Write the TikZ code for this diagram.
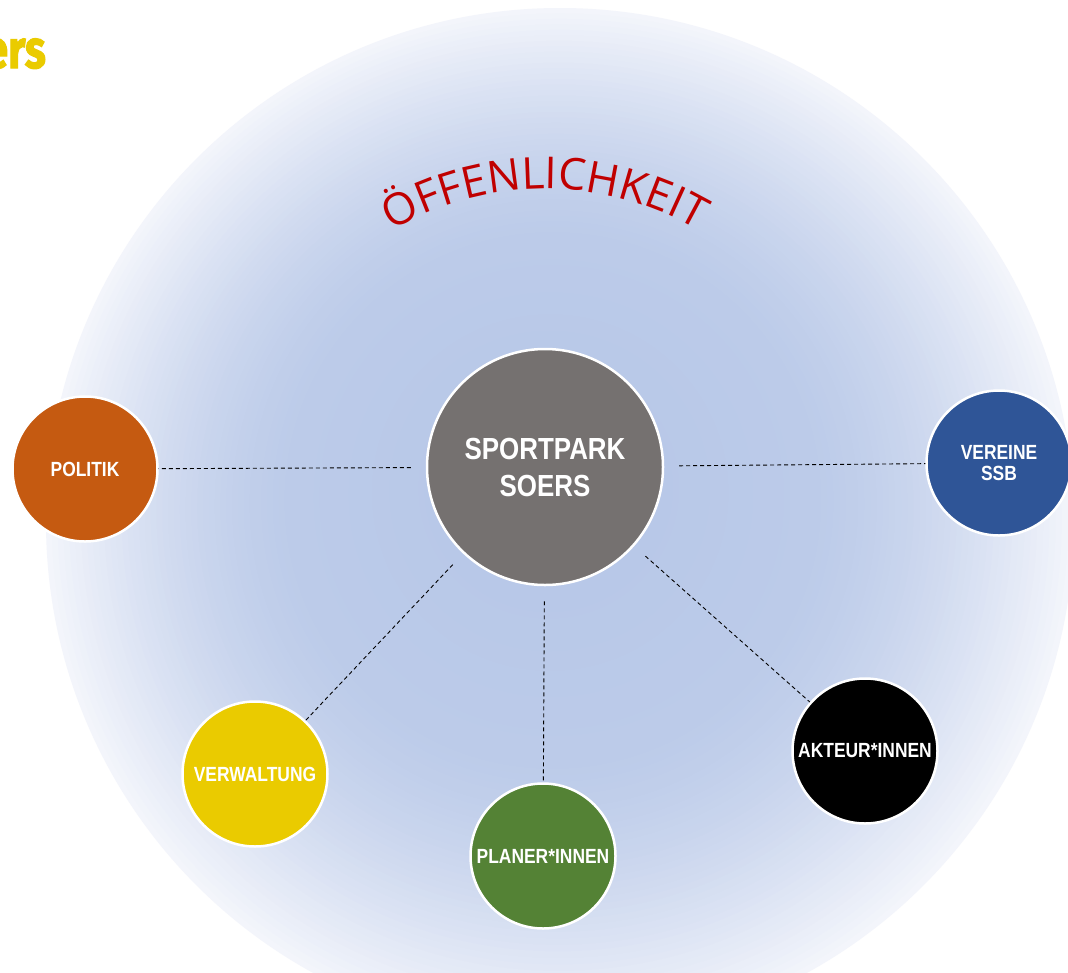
\documentclass[tikz,border=0pt]{standalone}
\usepackage{fontspec}
\setmainfont{Liberation Sans}
\newfontfamily\lblfont[FakeStretch=0.85]{Liberation Sans}
\newfontfamily\arcfont{Open Sans}
\newfontfamily\ersfont[FakeBold=2,FakeStretch=0.8]{Fira Sans}
\usetikzlibrary{decorations.text}
\definecolor{glowin}{RGB}{181,198,231}
\definecolor{glowmid}{RGB}{188,203,233}
\definecolor{glowout}{RGB}{243,245,251}
\definecolor{arcred}{RGB}{192,0,0}
\definecolor{ersyellow}{RGB}{234,203,0}
\definecolor{centergray}{RGB}{117,113,112}
\definecolor{politikc}{RGB}{197,90,17}
\definecolor{vereinec}{RGB}{47,85,151}
\definecolor{verwalc}{RGB}{234,203,0}
\definecolor{planerc}{RGB}{84,130,53}
\tikzset{
  pnode/.style={circle, draw=white, line width=2.5pt, minimum size=145pt, inner sep=0pt,
    text=white, align=center, font=\lblfont\bfseries\fontsize{20.5}{21}\selectfont},
  hubnode/.style={circle, draw=white, line width=2.5pt, minimum size=236pt, inner sep=0pt,
    fill=centergray, text=white, align=center, font=\lblfont\bfseries\fontsize{30.5}{37}\selectfont},
  conn/.style={draw=black, line width=0.9pt, dash pattern=on 4pt off 3pt},
}
\begin{document}
\begin{tikzpicture}[x=1pt,y=-1pt]
\useasboundingbox (0,0) rectangle (1068,972);
\fill[white] (0,0) rectangle (1068,972);
\begin{scope}
  \clip (0,0) rectangle (1068,972);
  \foreach \k in {0,...,85} {
    \pgfmathsetmacro\rr{514-6*\k}
    \pgfmathsetmacro\tt{\rr/514}
    \pgfmathsetmacro\uu{max(0,(\tt-0.5)/0.5)}
    \pgfmathsetmacro\pp{100*\uu*sqrt(\uu)}
    \pgfmathsetmacro\qq{min(100,100*\tt/0.5)}
    \pgfmathsetmacro\cx{560-15*(1-\tt)}
    \pgfmathsetmacro\cy{522-45*(1-\tt)}
    \colorlet{tmpc}{glowmid!\qq!glowin}
    \colorlet{ringc}{glowout!\pp!tmpc}
    \fill[ringc] (\cx,\cy) circle[radius=\rr];
  }
\end{scope}
\node[anchor=base east, text=ersyellow, inner sep=0pt,
  font=\ersfont\bfseries\fontsize{54}{54}\selectfont] (ers) at (46,68) {ers};
\path[decorate, decoration={text along path, text align=center,
  text={|\arcfont\fontsize{44}{44}\selectfont\color{arcred}|ÖFFENLICHKEIT}}]
  (545,492) ++(240:303) arc[start angle=240, end angle=300, radius=303];
\node[hubnode] (hub) at (545,467) {SPORTPARK\\SOERS};
\node[pnode, fill=politikc] (politik) at (85,469) {POLITIK};
\node[pnode, fill=vereinec] (vereine) at (999,463) {VEREINE\\SSB};
\node[pnode, fill=verwalc] (verwaltung) at (255,774) {VERWALTUNG};
\node[pnode, fill=planerc] (planer) at (543,856) {PLANER*INNEN};
\node[pnode, fill=black] (akteur) at (865,751) {AKTEUR*INNEN};
\draw[conn, shorten <=15pt] (hub) -- (politik);
\draw[conn, shorten <=15pt] (hub) -- (vereine);
\draw[conn, shorten <=15pt] (hub) -- (verwaltung);
\draw[conn, shorten <=15pt] (hub) -- (planer);
\draw[conn, shorten <=15pt] (hub) -- (akteur);
\end{tikzpicture}
\end{document}
